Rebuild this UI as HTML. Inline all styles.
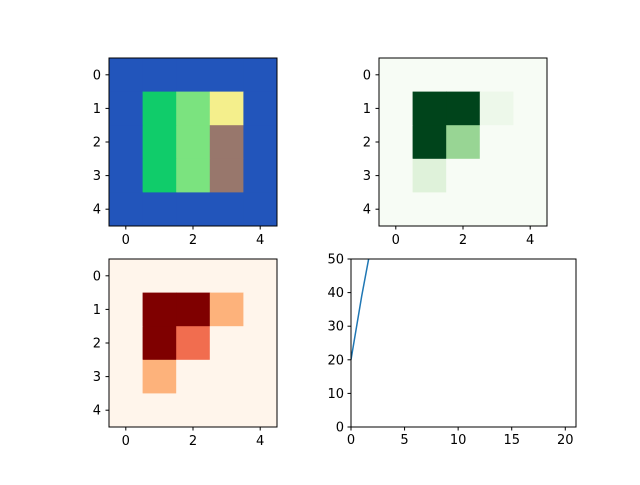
<!DOCTYPE html>
<html><head><meta charset="utf-8"><style>
body{margin:0;background:#fff;font-family:"Liberation Sans","DejaVu Sans",sans-serif}
svg text{font-size:13px;fill:#000;font-family:"DejaVu Sans","Liberation Sans",sans-serif}
</style></head><body>
<svg id="c" width="640" height="480"></svg>
<script>
const heatA = [
 ['#2255bb','#2255bb','#2255bb','#2255bb','#2255bb'],
 ['#2255bb','#10cc6a','#7be37f','#f4ef8c','#2255bb'],
 ['#2255bb','#10cc6a','#7be37f','#98776c','#2255bb'],
 ['#2255bb','#10cc6a','#7be37f','#98776c','#2255bb'],
 ['#2255bb','#2255bb','#2255bb','#2255bb','#2255bb']];
const heatB = [
 ['#f7fcf5','#f7fcf5','#f7fcf5','#f7fcf5','#f7fcf5'],
 ['#f7fcf5','#00441b','#00441b','#edf8ea','#f7fcf5'],
 ['#f7fcf5','#00441b','#98d594','#f7fcf5','#f7fcf5'],
 ['#f7fcf5','#dff2da','#f7fcf5','#f7fcf5','#f7fcf5'],
 ['#f7fcf5','#f7fcf5','#f7fcf5','#f7fcf5','#f7fcf5']];
const heatC = [
 ['#fff5eb','#fff5eb','#fff5eb','#fff5eb','#fff5eb'],
 ['#fff5eb','#7f0000','#7f0000','#fdb27b','#fff5eb'],
 ['#fff5eb','#7f0000','#f16d4f','#fff5eb','#fff5eb'],
 ['#fff5eb','#fdb27b','#fff5eb','#fff5eb','#fff5eb'],
 ['#fff5eb','#fff5eb','#fff5eb','#fff5eb','#fff5eb']];
const lineX = [0,1,2,3];
const lineY = [20,39,56,72];
const xTicks = [0,5,10,15,20];
const yTicks = [0,10,20,30,40,50];
const imgTicks = [0,2,4];
const imgYTicks = [0,1,2,3,4];

const svg=document.getElementById('c');
const NS='http://www.w3.org/2000/svg';
function el(t,a,p){const e=document.createElementNS(NS,t);for(const k in a)e.setAttribute(k,a[k]);(p||svg).appendChild(e);return e;}

function heat(data,x0,y0,name){
  const g=el('g',{});
  
  
  const s=168/5;
  data.forEach((row,r)=>row.forEach((col,c)=>{
    const e=el('rect',{x:x0+c*s,y:y0+r*s,width:s+0.5,height:s+0.5,fill:col},g);
    
    
  }));
  el('rect',{x:x0,y:y0,width:168,height:168,fill:'none',stroke:'#000','stroke-width':1},g);
  imgTicks.forEach(v=>{const x=x0+(v+0.5)*s;
    el('line',{x1:x,x2:x,y1:y0+168,y2:y0+171.5,stroke:'#000'},g);
    const t=el('text',{x:x,y:y0+186,'text-anchor':'middle'},g);t.textContent=v;
    });
  imgYTicks.forEach(v=>{const y=y0+(v+0.5)*s;
    el('line',{x1:x0-3.5,x2:x0,y1:y,y2:y,stroke:'#000'},g);
    const t=el('text',{x:x0-8,y:y+4.5,'text-anchor':'end'},g);t.textContent=v;
    });
}
heat(heatA,109,58,'heatmap-terrain');
heat(heatB,379,58,'heatmap-greens');
heat(heatC,109,259,'heatmap-reds');

// line chart
const L=351,R=576,T=259,B=427;
const sx=v=>L+v*(R-L)/21, sy=v=>B-v*(B-T)/50;
const g=el('g',{});


el('clipPath',{id:'cp'},g).appendChild((()=>{const r=document.createElementNS(NS,'rect');r.setAttribute('x',L);r.setAttribute('y',T);r.setAttribute('width',R-L);r.setAttribute('height',B-T);return r;})());
const p=el('polyline',{points:lineX.map((x,i)=>sx(x)+','+sy(lineY[i])).join(' '),fill:'none',stroke:'#1f77b4','stroke-width':1.5,'clip-path':'url(#cp)'},g);


el('rect',{x:L,y:T,width:R-L,height:B-T,fill:'none',stroke:'#000'},g);
xTicks.forEach(v=>{const x=sx(v);el('line',{x1:x,x2:x,y1:B,y2:B+3.5,stroke:'#000'},g);
  const t=el('text',{x:x,y:B+17,'text-anchor':'middle'},g);t.textContent=v;
  });
yTicks.forEach(v=>{const y=sy(v);el('line',{x1:L-3.5,x2:L,y1:y,y2:y,stroke:'#000'},g);
  const t=el('text',{x:L-7,y:y+4.5,'text-anchor':'end'},g);t.textContent=v;
  });
</script>
</body></html>
